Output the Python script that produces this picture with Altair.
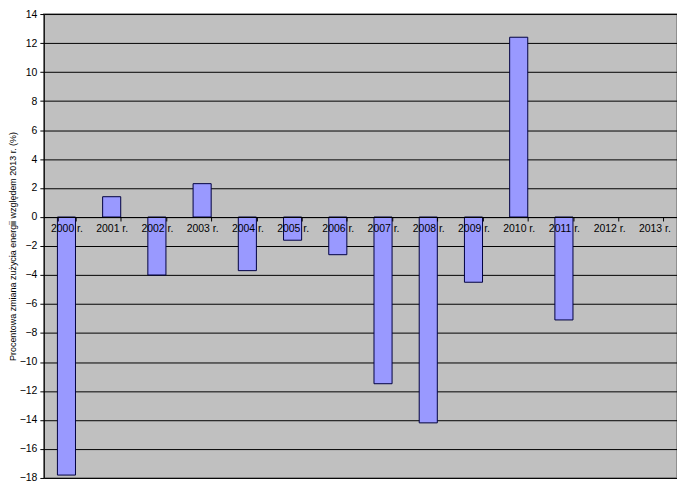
import altair as alt
import pandas as pd

years = ["2000 r.", "2001 r.", "2002 r.", "2003 r.", "2004 r.", "2005 r.", "2006 r.",
         "2007 r.", "2008 r.", "2009 r.", "2010 r.", "2011 r.", "2012 r.", "2013 r."]
values = [-17.8, 1.4, -4.0, 2.3, -3.7, -1.6, -2.6, -11.5, -14.2, -4.5, 12.4, -7.1, None, None]
y_ticks = list(range(-18, 15, 2))

df = pd.DataFrame({"rok": years, "zmiana": values})

FONT = "Liberation Sans"
W, H = 636, 466
zero_offset = -(H * 18 / 32)

chart = alt.Chart(df).mark_bar(
    color="#9999FF", stroke="#000040", strokeWidth=1
).encode(
    x=alt.X("rok:N", sort=years,
            scale=alt.Scale(domain=years, paddingInner=0.6, paddingOuter=0.3),
            axis=alt.Axis(title=None, labelAngle=0, labelFont=FONT, labelFontSize=10.5,
                          labelColor="black", domainColor="black", tickColor="black",
                          tickSize=4, tickBand="extent", offset=zero_offset,
                          labelPadding=3, grid=False, zindex=1)),
    y=alt.Y("zmiana:Q",
            scale=alt.Scale(domain=[-18, 14], nice=False, zero=False),
            axis=alt.Axis(title="Procentowa zmiana zużycia energii względem 2013 r. (%)",
                          values=y_ticks, labelFont=FONT, labelFontSize=10.5,
                          labelColor="black", titleFont=FONT, titleFontSize=9,
                          titleFontWeight="normal", titleColor="black",
                          titlePadding=2,
                          domainColor="black", tickColor="black", tickSize=4,
                          gridColor="black", gridWidth=1, gridOpacity=1,
                          labelPadding=3, zindex=0)),
).properties(
    width=W, height=H,
    background="white",
    autosize=alt.AutoSizeParams(type="none"),
    padding={"left": 36, "top": 5, "right": 0, "bottom": 6},
).configure_view(
    fill="#C0C0C0", stroke="#808080", strokeWidth=1.5
)

chart.save("out.html", embed_options={"renderer": "svg", "actions": False})
